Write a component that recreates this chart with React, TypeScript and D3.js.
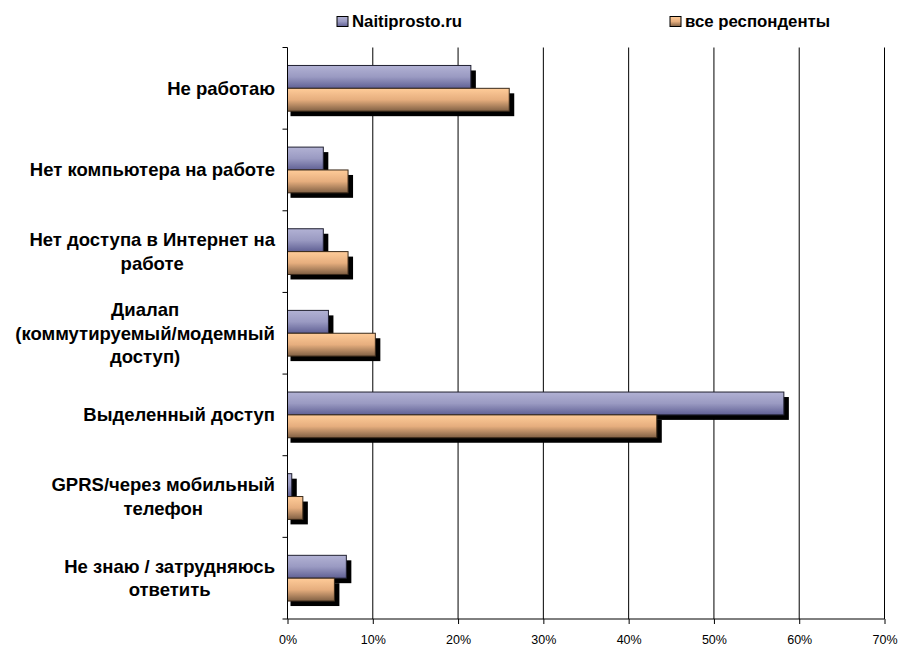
import { useEffect, useRef } from "react";
import * as d3 from "d3";

// categories, top to bottom; each entry is the wrapped lines of the label
const categories: string[][] = [
  ["Не работаю"],
  ["Нет компьютера на работе"],
  ["Нет доступа в Интернет на", "работе"],
  ["Диалап", "(коммутируемый/модемный", "доступ)"],
  ["Выделенный доступ"],
  ["GPRS/через мобильный", "телефон"],
  ["Не знаю / затрудняюсь", "ответить"],
];

const seriesNames = ["Naitiprosto.ru", "все респонденты"];
const naitiprosto = [21.5, 4.2, 4.2, 4.8, 58.2, 0.5, 6.9];
const allRespondents = [26.0, 7.1, 7.1, 10.3, 43.3, 1.8, 5.5];
const xTicks = [0, 10, 20, 30, 40, 50, 60, 70];

const W = 899;
const H = 646;
const FONT = "Liberation Sans, Arial, sans-serif";

export default function App() {
  const svgRef = useRef<SVGSVGElement>(null);

  useEffect(() => {
    if (!svgRef.current) return;
    const svg = d3.select(svgRef.current);
    svg.html("");

    const left = 287.5;
    const right = 884.5;
    const top = 47.5;
    const bottom = 619;

    const x = d3.scaleLinear().domain([0, 70]).range([left, right]);
    const y = d3
      .scaleBand<number>()
      .domain(d3.range(categories.length))
      .range([top, bottom]);

    const barH = y.bandwidth() * 0.28;

    // gradients for the bars
    const defs = svg.append("defs");
    const grads = [
      { id: "gBlue", stops: ["#b2b2d4", "#9a9ac2", "#606094"] },
      { id: "gOrange", stops: ["#ffcc99", "#e6ae7e", "#806044"] },
    ];
    grads.forEach((g) => {
      const lg = defs
        .append("linearGradient")
        .attr("id", g.id)
        .attr("x1", 0)
        .attr("y1", 0)
        .attr("x2", 0)
        .attr("y2", 1);
      g.stops.forEach((c, i) =>
        lg
          .append("stop")
          .attr("offset", i / (g.stops.length - 1))
          .attr("stop-color", c)
      );
    });

    // vertical gridlines
    svg
      .append("g")
      .selectAll("line")
      .data(xTicks.slice(1))
      .join("line")
      .attr("x1", (d) => x(d))
      .attr("x2", (d) => x(d))
      .attr("y1", top)
      .attr("y2", bottom)
      .attr("stroke", "#000")
      .attr("stroke-width", 1);

    // bars with drop shadow
    const series = [
      { values: naitiprosto, fill: "url(#gBlue)", off: 0, stroke: "#202030" },
      { values: allRespondents, fill: "url(#gOrange)", off: 1, stroke: "#3a2a1a" },
    ];
    const barY = (i: number, off: number) =>
      y(i)! + y.bandwidth() / 2 - barH + off * barH;
    const bars = svg.append("g");
    series.forEach((s) => {
      bars
        .append("g")
        .selectAll("rect")
        .data(s.values)
        .join("rect")
        .attr("x", x(0) + 3)
        .attr("y", (_, i) => barY(i, s.off) + 5)
        .attr("width", (d) => x(d) - x(0) + 2)
        .attr("height", barH)
        .attr("fill", "#000");
      bars
        .append("g")
        .selectAll("rect")
        .data(s.values)
        .join("rect")
        .attr("x", x(0))
        .attr("y", (_, i) => barY(i, s.off))
        .attr("width", (d) => x(d) - x(0))
        .attr("height", barH)
        .attr("fill", s.fill)
        .attr("stroke", s.stroke)
        .attr("stroke-width", 1);
    });

    // left axis with outward ticks at band edges
    const yAxis = svg.append("g");
    yAxis
      .append("line")
      .attr("x1", left)
      .attr("x2", left)
      .attr("y1", top)
      .attr("y2", bottom)
      .attr("stroke", "#000");
    yAxis
      .selectAll("line.t")
      .data(d3.range(categories.length + 1))
      .join("line")
      .attr("class", "t")
      .attr("x1", left - 5)
      .attr("x2", left)
      .attr("y1", (i) => top + i * y.step())
      .attr("y2", (i) => top + i * y.step())
      .attr("stroke", "#000");

    // bottom axis
    const xAxis = svg
      .append("g")
      .attr("transform", `translate(0,${bottom})`)
      .call(
        d3
          .axisBottom(x)
          .tickValues(xTicks)
          .tickSize(5)
          .tickPadding(11)
          .tickFormat((d) => `${d}%`)
      );
    xAxis.select(".domain").attr("stroke", "#000").attr("d", `M${left},0H${right}`);
    xAxis.selectAll(".tick line").attr("stroke", "#000");
    xAxis
      .selectAll("text")
      .attr("font-family", FONT)
      .attr("font-size", 12.5)
      .attr("fill", "#000");

    // category labels, lines centred in a right-aligned block
    const labelRight = 275;
    const lineH = 23.5;
    const lab = svg
      .append("g")
      .attr("font-family", FONT)
      .attr("font-size", 18.5)
      .attr("font-weight", "bold")
      .attr("fill", "#000");
    categories.forEach((lines, i) => {
      const cy = y(i)! + y.bandwidth() / 2;
      const texts = lab
        .append("g")
        .selectAll("text")
        .data(lines)
        .join("text")
        .attr("text-anchor", "middle")
        .attr("dominant-baseline", "central")
        .attr("y", (_, j) => cy + (j - (lines.length - 1) / 2) * lineH)
        .text((d) => d);
      let maxW = 0;
      texts.each(function () {
        maxW = Math.max(maxW, (this as SVGTextElement).getComputedTextLength());
      });
      texts.attr("x", labelRight - maxW / 2);
    });

    // legend
    const legend = svg
      .append("g")
      .attr("font-family", FONT)
      .attr("font-size", 16.8)
      .attr("font-weight", "bold");
    const legendX = [337, 670];
    seriesNames.forEach((name, i) => {
      const g = legend.append("g").attr("transform", `translate(${legendX[i]},16.5)`);
      g.append("rect")
        .attr("width", 11)
        .attr("height", 10)
        .attr("fill", i === 0 ? "url(#gBlue)" : "url(#gOrange)")
        .attr("stroke", "#000");
      g.append("text")
        .attr("x", 15)
        .attr("y", 5)
        .attr("dominant-baseline", "central")
        .text(name);
    });
  }, []);

  return (
    <svg
      ref={svgRef}
      width={W}
      height={H}
      style={{ position: "absolute", left: 0, top: 0, background: "#fff" }}
    />
  );
}
